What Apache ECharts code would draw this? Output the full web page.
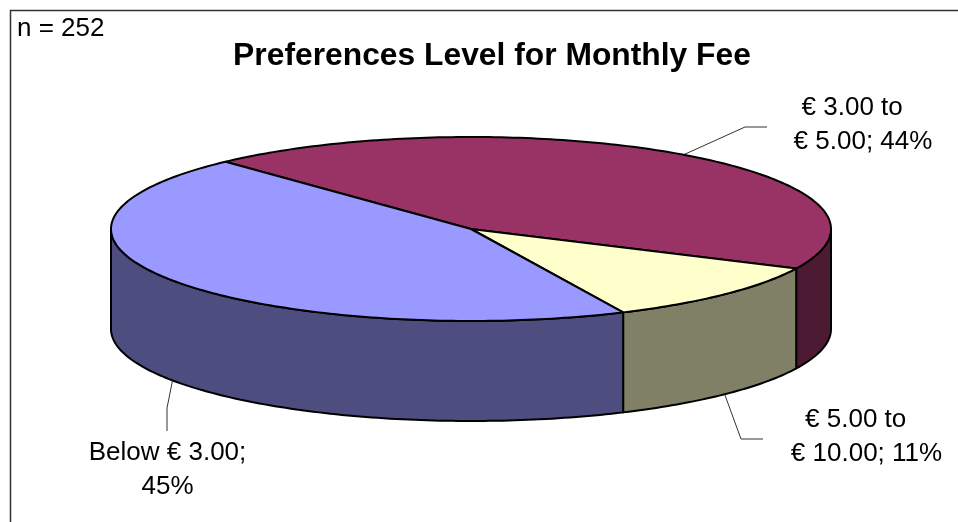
<!DOCTYPE html>
<html>
<head>
<meta charset="utf-8">
<style>html,body{margin:0;padding:0;background:#fff}#chart{width:958px;height:522px}</style>
<script src="https://cdn.jsdelivr.net/npm/echarts@6/dist/echarts.min.js"></script>
</head>
<body>
<div id="chart"></div>
<script>
// Data
const categories = ['€ 3.00 to € 5.00', '€ 5.00 to € 10.00', 'Below € 3.00'];
const shares = [44, 11, 45];
const labelLines = ['€ 3.00 to\u00a0\u00a0\u00a0\n€ 5.00; 44%', '€ 5.00 to\u00a0\u00a0\u00a0\n€ 10.00; 11%', 'Below € 3.00;\n45%'];
const topColors = ['#993366', '#FFFFCC', '#9999FF'];
const wallColors = ['#4D1A33', '#808066', '#4D4D80'];

// Layout of the tilted pie
const cx = 471, cy = 229, rx = 360, ry = 92, depth = 100, startAngle = 133;
// Leader elbow, leader end and label centre for each slice
const leaderLayout = [
  {elbow: [745, 127], end: [767, 127], label: [863, 125]},
  {elbow: [741, 439], end: [763, 439], label: [866.5, 437]},
  {elbow: [167, 408], end: [167, 431], label: [167.5, 470]}
];

const total = shares.reduce((a, b) => a + b, 0);
const pt = (deg, dy) => {
  const r = deg * Math.PI / 180;
  return [cx + rx * Math.cos(r), cy - ry * Math.sin(r) + (dy || 0)];
};
const arc = (from, to, dy) => {
  const out = [], n = Math.max(2, Math.ceil(Math.abs(to - from)));
  for (let i = 0; i <= n; i++) out.push(pt(from + (to - from) * i / n, dy));
  return out;
};

function renderItem(params, api) {
  const i = params.dataIndex;
  let before = 0;
  for (let k = 0; k < i; k++) before += shares[k];
  const value = api.value(0);
  const a0 = startAngle - before / total * 360;
  const a1 = a0 - value / total * 360;
  const mid = (a0 + a1) / 2;
  const children = [];
  const hi = Math.min(a0, 0), lo = Math.max(a1, -180);
  const lineStyle = {stroke: '#000', lineWidth: 2, lineJoin: 'round'};
  if (hi > lo) {
    const top = arc(hi, lo, 0), bottom = arc(lo, hi, depth);
    children.push({type: 'polygon', shape: {points: top.concat(bottom)},
      style: Object.assign({fill: wallColors[i]}, lineStyle)});
  }
  children.push({type: 'polygon', z2: 5, shape: {points: [[cx, cy]].concat(arc(a0, a1, 0))},
    style: Object.assign({fill: topColors[i]}, lineStyle)});
  const norm = ((mid % 360) + 360) % 360;
  const anchor = pt(mid, norm > 180 ? depth : 0);
  const L = leaderLayout[i];
  children.push({type: 'polyline', shape: {points: [anchor, L.elbow, L.end]},
    style: {fill: null, stroke: '#333', lineWidth: 1}});
  children.push({type: 'text', x: L.label[0], y: L.label[1],
    style: {text: labelLines[i], font: '26px "Liberation Sans", Arial, sans-serif',
      fill: '#000', align: 'center', verticalAlign: 'middle', lineHeight: 34.5}});
  return {type: 'group', children};
}

const chart = echarts.init(document.getElementById('chart'), null, {renderer: 'canvas'});
chart.setOption({
  animation: false,
  backgroundColor: '#fff',
  title: {
    text: 'Preferences Level for Monthly Fee',
    left: 487, top: 35, textAlign: 'center',
    textStyle: {fontFamily: '"Liberation Sans", Arial, sans-serif', fontWeight: 'bold', fontSize: 31.8, color: '#000'}
  },
  graphic: [
    {type: 'polyline', x: 0, y: 0, silent: true,
      shape: {points: [[10.5, 530], [10.5, 10.5], [970, 10.5]]},
      style: {fill: null, stroke: '#333', lineWidth: 1.5}},
    {type: 'text', x: 17, y: 29, silent: true,
      style: {text: 'n = 252', font: '26px "Liberation Sans", Arial, sans-serif', fill: '#000', verticalAlign: 'middle'}}
  ],
  series: [{
    type: 'custom',
    coordinateSystem: 'none',
    renderItem,
    data: categories.map((name, i) => ({name, value: [shares[i]]}))
  }]
});
</script>
</body>
</html>
